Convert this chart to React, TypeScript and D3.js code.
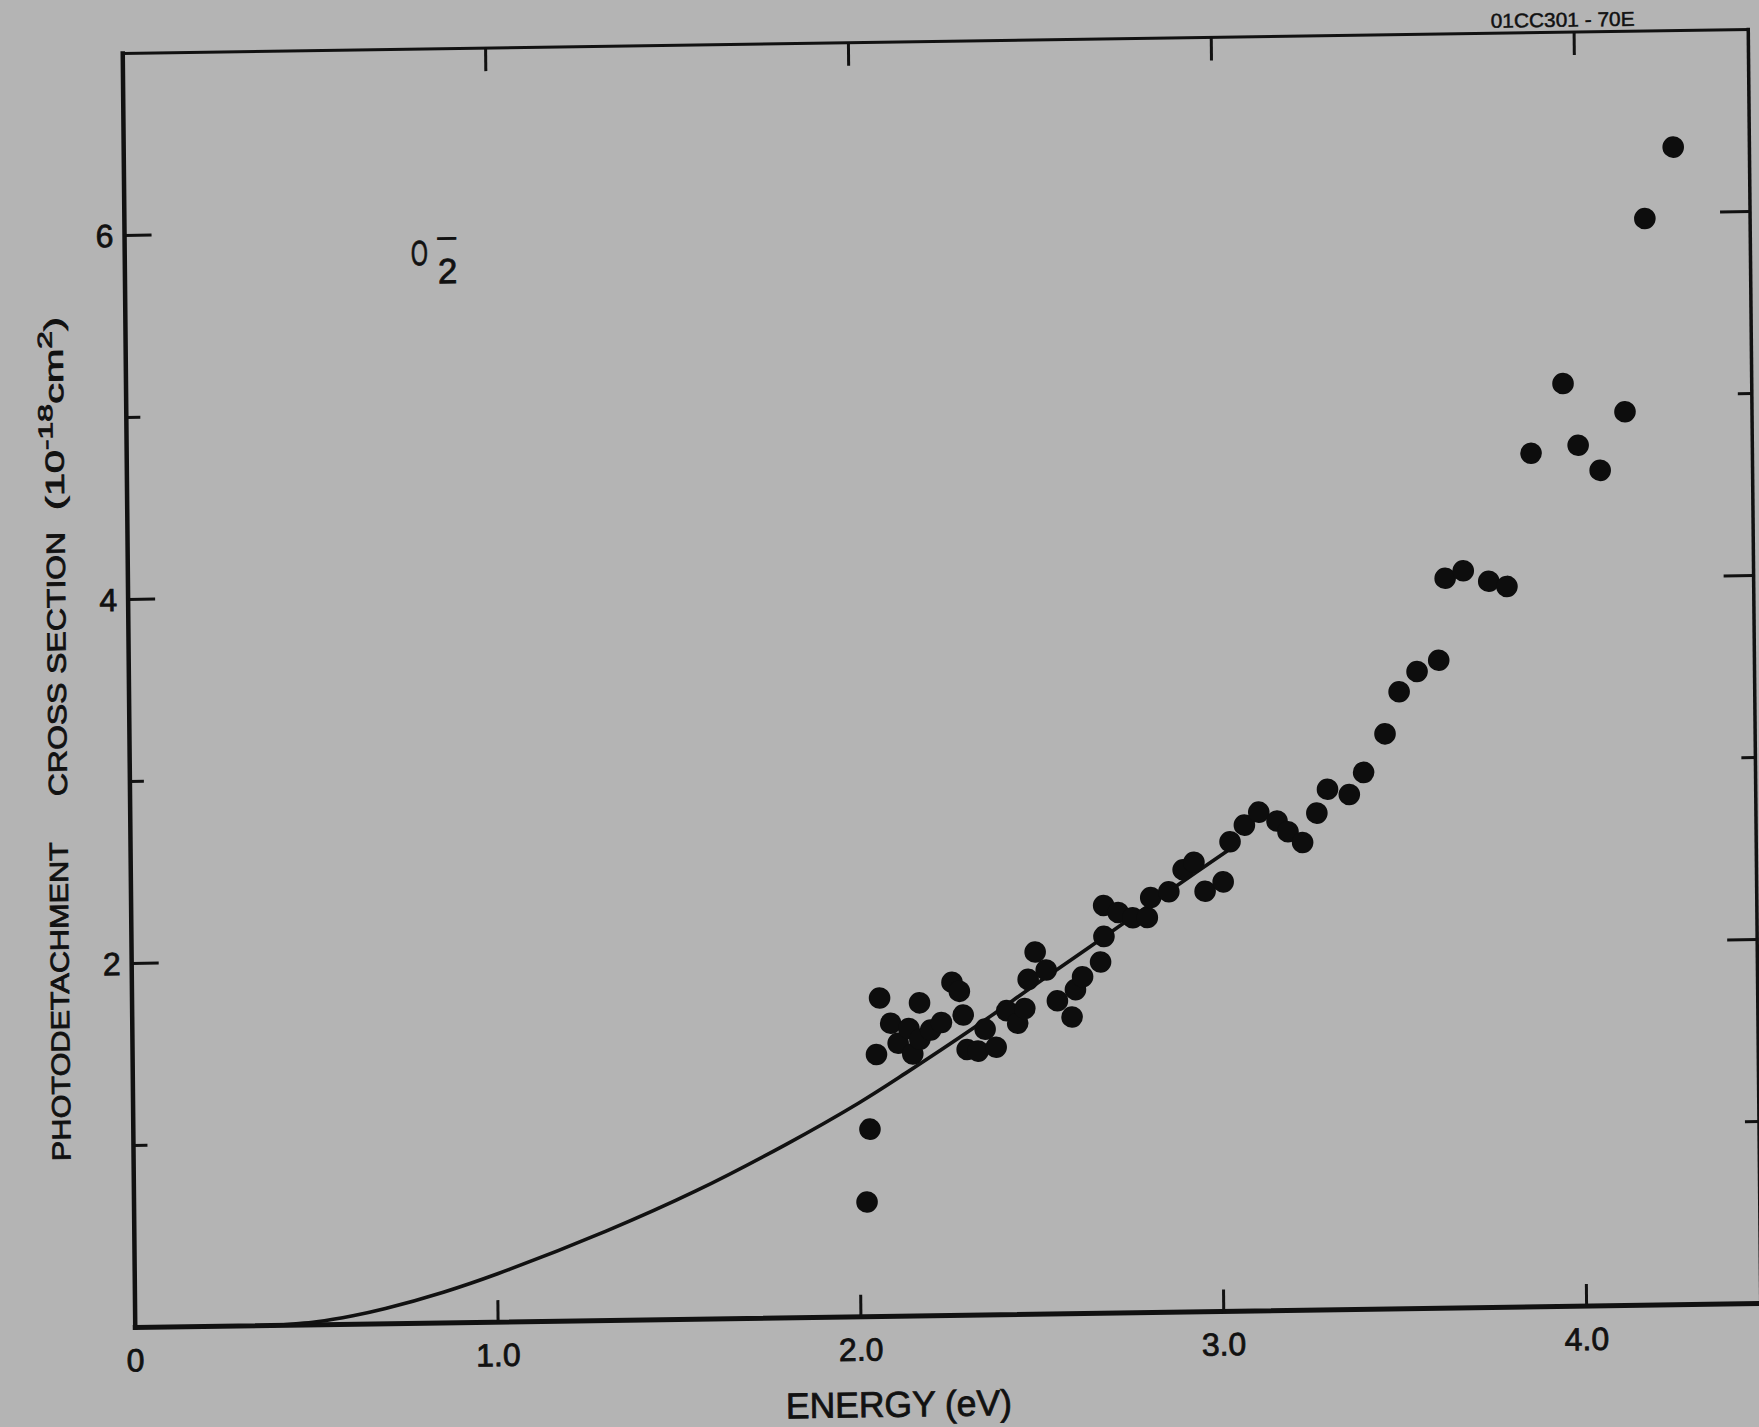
import React from 'react';
import * as d3 from 'd3';

// Photodetachment cross section of O2- (10^-18 cm^2) vs photon energy (eV)
const energy = [
  2.02, 2.03, 2.05, 2.06, 2.09, 2.11, 2.14, 2.15, 2.17, 2.17, 2.20, 2.23,
  2.26, 2.28, 2.29, 2.30, 2.33, 2.35, 2.38, 2.41, 2.44, 2.46, 2.47, 2.49,
  2.52, 2.55, 2.59, 2.60, 2.62, 2.67, 2.68, 2.68, 2.72, 2.76, 2.80, 2.81,
  2.86, 2.90, 2.93, 2.96, 3.01, 3.03, 3.07, 3.11, 3.16, 3.19, 3.23, 3.27,
  3.30, 3.36, 3.40, 3.46, 3.50, 3.55, 3.61, 3.63, 3.68, 3.75, 3.80, 3.87,
  3.96, 4.00, 4.06, 4.13, 4.19, 4.27,
];
const crossSection = [
  0.63, 1.03, 1.44, 1.75, 1.61, 1.50, 1.58, 1.44, 1.72, 1.52, 1.57, 1.61,
  1.83, 1.78, 1.65, 1.46, 1.45, 1.57, 1.47, 1.67, 1.60, 1.68, 1.84, 1.99,
  1.89, 1.72, 1.63, 1.78, 1.85, 1.93, 2.07, 2.24, 2.20, 2.17, 2.17, 2.28,
  2.31, 2.43, 2.47, 2.31, 2.36, 2.58, 2.67, 2.74, 2.69, 2.63, 2.57, 2.73,
  2.86, 2.83, 2.95, 3.16, 3.39, 3.50, 3.56, 4.01, 4.05, 3.99, 3.96, 4.69,
  5.07, 4.73, 4.59, 4.91, 5.97, 6.36,
];

// Smooth theoretical curve drawn through the data
const fitEnergy = [0.38, 0.5, 0.6, 0.69, 0.85, 1.0, 1.3, 1.55, 1.8, 2.0, 2.13, 2.32, 2.5, 2.69, 2.88, 3.03];
const fitCrossSection = [0, 0.017, 0.047, 0.084, 0.169, 0.266, 0.491, 0.706, 0.955, 1.175, 1.335, 1.58, 1.825, 2.08, 2.34, 2.54];

const xTicks = [1, 2, 3, 4];
const xTickLabels = ['0', '1.0', '2.0', '3.0', '4.0'];
const xTickLabelValues = [0, 1, 2, 3, 4];
const yTicks = [1, 2, 3, 4, 5, 6];
const yTickLabels = ['2', '4', '6'];
const yTickLabelValues = [2, 4, 6];

const X_MAX = 4.48;
const Y_MAX = 7;

export default function App() {
  const W = 1759;
  const H = 1427;
  const left = 129;
  const top = 41.5;
  const width = 1625.5;
  const height = 1274;

  const x = d3.scaleLinear().domain([0, X_MAX]).range([left, left + width]);
  const y = d3.scaleLinear().domain([0, Y_MAX]).range([top + height, top]);

  // the photographed sheet is slightly skewed; reproduce it with an affine warp
  const cx = 941.75;
  const cy = 678.5;
  const warp = `translate(${cx},${cy}) matrix(1,-0.01476,0.00981,1,0,0) translate(${-cx},${-cy})`;

  const fitPts: [number, number][] = fitEnergy.map((e, i) => [e, fitCrossSection[i]]);
  const line = d3
    .line<[number, number]>()
    .x((d) => x(d[0]))
    .y((d) => y(d[1]))
    .curve(d3.curveCatmullRom.alpha(0.5));

  const ink = '#111';
  const font = "'Liberation Sans', Arial, sans-serif";
  const textInk = { fill: ink, stroke: ink, strokeWidth: 0.8 };

  return (
    <svg
      width={W}
      height={H}
      viewBox={`0 0 ${W} ${H}`}
      style={{ position: 'absolute', left: 0, top: 0, display: 'block' }}
      fontFamily={font}
    >
      <rect x={0} y={0} width={W} height={H} fill="#b4b4b4" />
      <g transform={warp}>
        {/* frame */}
        <line x1={x(0)} x2={x(0)} y1={y(0)} y2={y(Y_MAX)} stroke={ink} strokeWidth={4.5} strokeLinecap="square" />
        <line x1={x(0)} x2={x(X_MAX)} y1={y(0)} y2={y(0)} stroke={ink} strokeWidth={5} strokeLinecap="square" />
        <line x1={x(0)} x2={x(X_MAX)} y1={y(Y_MAX)} y2={y(Y_MAX)} stroke={ink} strokeWidth={3} strokeLinecap="square" />
        <line x1={x(X_MAX)} x2={x(X_MAX)} y1={y(0)} y2={y(Y_MAX)} stroke={ink} strokeWidth={3.5} strokeLinecap="square" />

        {/* x ticks, bottom and top */}
        {xTicks.map((v) => (
          <g key={`xt${v}`}>
            <line x1={x(v)} x2={x(v)} y1={y(0)} y2={y(0) - 22} stroke={ink} strokeWidth={3} />
            <line x1={x(v)} x2={x(v)} y1={y(Y_MAX)} y2={y(Y_MAX) + 23} stroke={ink} strokeWidth={3} />
          </g>
        ))}
        {/* y ticks, left and right */}
        {yTicks.map((v) => (
          <g key={`yt${v}`}>
            <line x1={x(0)} x2={x(0) + (v % 2 === 0 ? 27 : 14)} y1={y(v)} y2={y(v)} stroke={ink} strokeWidth={3} />
            <line x1={x(X_MAX)} x2={x(X_MAX) - (v % 2 === 0 ? 30 : 14)} y1={y(v)} y2={y(v)} stroke={ink} strokeWidth={3} />
          </g>
        ))}

        {/* tick labels */}
        {xTickLabelValues.map((v, i) => (
          <text key={`xl${v}`} x={x(v)} y={y(0) + 44} textAnchor="middle" fontSize={32} {...textInk}>
            {xTickLabels[i]}
          </text>
        ))}
        {yTickLabelValues.map((v, i) => (
          <text key={`yl${v}`} x={x(0) - 11} y={y(v) + 11.3} textAnchor="end" fontSize={32} {...textInk}>
            {yTickLabels[i]}
          </text>
        ))}

        {/* axis titles */}
        <text x={891.8} y={1416} textAnchor="middle" fontSize={36} textLength={226} lengthAdjust="spacingAndGlyphs" {...textInk}>
          ENERGY (eV)
        </text>
        <text transform="translate(66,988.5) rotate(-90)" textAnchor="middle" fontSize={26} textLength={319} lengthAdjust="spacingAndGlyphs" {...textInk}>
          PHOTODETACHMENT
        </text>
        <text transform="translate(66,651) rotate(-90)" textAnchor="middle" fontSize={26} textLength={264} lengthAdjust="spacingAndGlyphs" {...textInk}>
          CROSS SECTION
        </text>
        <text transform="translate(66,400.5) rotate(-90)" textAnchor="middle" fontSize={26} textLength={193} lengthAdjust="spacingAndGlyphs" {...textInk}>
          <tspan>(10</tspan>
          <tspan dy={-11} fontSize={20}>-18</tspan>
          <tspan dy={11}>cm</tspan>
          <tspan dy={-11} fontSize={20}>2</tspan>
          <tspan dy={11}>)</tspan>
        </text>

        {/* species label: O2 with the minus stacked over the subscript */}
        <text fontSize={35} {...textInk}>
          <tspan x={415.2} y={257.4} textLength={17} lengthAdjust="spacingAndGlyphs">O</tspan>
          <tspan x={442} y={275.8}>2</tspan>
        </text>
        <text x={440.5} y={238.6} fontSize={22} textLength={21} lengthAdjust="spacingAndGlyphs" fill={ink} stroke={ink} strokeWidth={1.1}>
          −
        </text>

        {/* figure id */}
        <text x={1569} y={36} textAnchor="middle" fontSize={20} textLength={144} lengthAdjust="spacingAndGlyphs" fill={ink} stroke={ink} strokeWidth={0.5}>
          01CC301 - 70E
        </text>

        {/* fitted curve */}
        <path d={line(fitPts) ?? ''} fill="none" stroke={ink} strokeWidth={3.6} strokeLinecap="round" />

        {/* data points */}
        {energy.map((e, i) => (
          <circle key={`p${i}`} cx={x(e)} cy={y(crossSection[i])} r={10.8} fill="#0d0d0d" />
        ))}
      </g>
    </svg>
  );
}
